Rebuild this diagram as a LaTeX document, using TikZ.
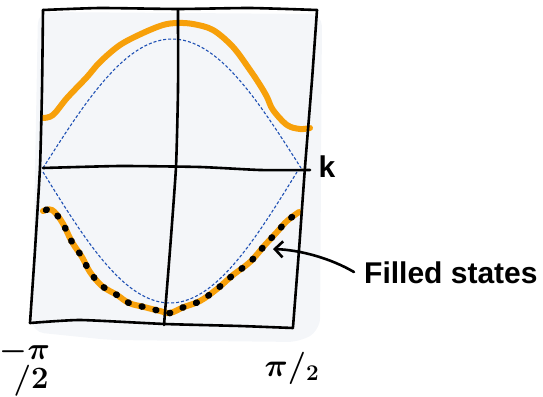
\documentclass[tikz,border=0pt]{standalone}
\usepackage{fontspec}
\setmainfont{Liberation Sans}
\usetikzlibrary{arrows.meta}
\definecolor{bgfill}{RGB}{244,246,249}
\definecolor{orng}{RGB}{247,160,10}
\definecolor{bluedash}{RGB}{30,80,180}
\tikzset{
  sketch/.style={line width=2.6pt, line cap=round, line join=round, black},
  band/.style={line width=6pt, line cap=round, line join=round, orng},
  freeband/.style={line width=1.1pt, dash pattern=on 3pt off 2pt, bluedash},
  filled/.style={line width=6.5pt, line cap=round, dash pattern=on 0.8pt off 13.5pt, black},
  lbl/.style={inner sep=0pt, font=\fontsize{30}{30}\selectfont\bfseries},
  pilbl/.style={inner sep=0pt, transform shape, font=\fontsize{24}{20}\selectfont\boldmath}
}
\begin{document}
\begin{tikzpicture}[x=1pt,y=-1pt]
\useasboundingbox (0,0) rectangle (543,396);
% background
\fill[bgfill, rounded corners=12pt] (38,12) -- (322,14) -- (320,330) -- (300,342) -- (110,340) -- (32,332) -- cycle;
% free-electron dashed curves
\draw[freeband] plot[domain=-90:90, samples=60] ({172+\x/180*258}, {168-129*cos(\x)});
\draw[freeband] plot[domain=-90:90, samples=60] ({170+\x/180*254}, {172+131*cos(\x)});
% upper band
\draw[band] plot[smooth, tension=0.55] coordinates {(43,118) (53,115) (67,98) (87,77) (100,62) (120,45) (143,33) (163,25) (177,23) (193,24) (213,30) (233,47) (250,70) (260,85) (267,97) (273,110) (287,125) (300,129) (310,128)};
% lower band
\draw[band] plot[smooth, tension=0.6] coordinates {(43,211) (52,210) (62,222) (72,242) (82,257) (90,272) (102,286) (117,295) (129,303) (144,307) (160,311) (170,313) (184,307) (200,301) (217,289) (233,275) (250,262) (265,245) (277,232) (287,221) (299,212)};
% filled states dots
\draw[filled] plot[smooth, tension=0.6] coordinates {(46,210) (52,210) (62,222) (72,242) (82,257) (90,272) (102,286) (117,295) (129,303) (144,307) (160,311) (170,313) (184,307) (200,301) (217,289) (233,275) (250,262) (265,245) (277,232) (287,221) (299,212)};
% frame
\draw[sketch] plot[smooth, tension=0.3] coordinates {(43,10) (100,8) (178,9) (250,8) (317,10)};
\draw[sketch] plot[smooth, tension=0.3] coordinates {(317,10) (312,80) (305,167) (299,250) (293,327)};
\draw[sketch] plot[smooth, tension=0.3] coordinates {(30,323) (80,320) (165,324) (240,326) (293,328)};
\draw[sketch] plot[smooth, tension=0.3] coordinates {(43,10) (42,90) (40,167) (35,250) (30,323)};
% axes
\draw[sketch] plot[smooth, tension=0.3] coordinates {(178,10) (178,90) (176,167) (170,250) (164,325)};
\draw[sketch] plot[smooth, tension=0.3] coordinates {(43,168) (120,166) (200,167) (260,170) (310,170)};
% labels
\node[lbl] (k) at (327,167) {k};
\node[lbl, anchor=west] (fs) at (364,273) {Filled states};
\node[pilbl, scale=1.25, align=left] (lpi) at (25,368) {$-\pi$\\\hspace*{11pt}$/2$};
\node[pilbl, scale=1.3] (rpi) at (292,368) {$\pi/_{2}$};
\coordinate (tip) at (273,249);
\draw[sketch, -{Straight Barb[length=8pt,width=16pt,line width=2.6pt]}] (fs.west) ++(-10,-1) .. controls (330,258) and (300,250) .. (tip);
\end{tikzpicture}
\end{document}
